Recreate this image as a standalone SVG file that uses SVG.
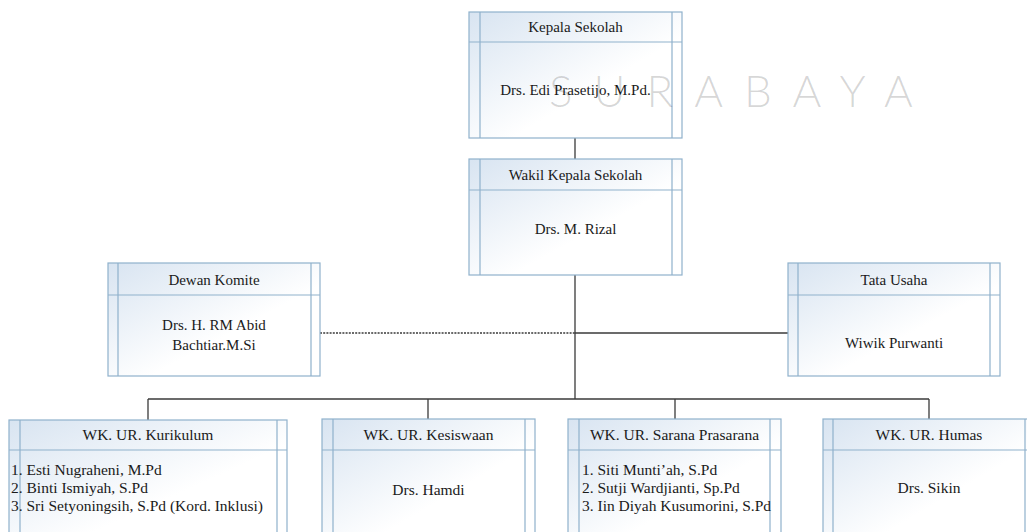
<svg xmlns="http://www.w3.org/2000/svg" width="1027" height="532" viewBox="0 0 1027 532">
<style>
.box{fill:url(#g);stroke:#8fb1cc;stroke-width:1.2}
.ln{stroke:#8fb1cc;stroke-width:1.2;fill:none}
.t{font-family:"Liberation Serif","Times New Roman",serif;font-size:15px;fill:#1a1a1a;text-anchor:middle}
.l{font-family:"Liberation Serif","Times New Roman",serif;font-size:15.5px;fill:#1a1a1a}
.c{stroke:#3a3a3a;stroke-width:1.3;fill:none}
.ws{font-family:Lato,"Open Sans",sans-serif;font-weight:300;font-size:44px;fill:#000;fill-opacity:0.16;letter-spacing:21px}
</style>
<defs>
<linearGradient id="g" x1="0" y1="0" x2="1" y2="1">
<stop offset="0" stop-color="#d8e4f1"/>
<stop offset="0.6" stop-color="#ffffff"/>
<stop offset="1" stop-color="#ffffff"/>
</linearGradient>
</defs>
<rect width="1027" height="532" fill="#ffffff"/>

<g id="connectors">
<line class="c" x1="575" y1="138" x2="575" y2="159"/>
<line class="c" x1="575" y1="275" x2="575" y2="399"/>
<line class="c" x1="575" y1="333" x2="788" y2="333"/>
<line class="c" x1="320" y1="333" x2="575" y2="333" stroke-dasharray="2,1.2"/>
<line class="c" x1="148" y1="399" x2="929" y2="399"/>
<line class="c" x1="148" y1="399" x2="148" y2="420"/>
<line class="c" x1="428" y1="399" x2="428" y2="419"/>
<line class="c" x1="675" y1="399" x2="675" y2="419"/>
<line class="c" x1="929" y1="399" x2="929" y2="419"/>
</g>

<g id="kepala">
<rect class="box" x="469" y="12" width="213" height="126"/>
<path class="ln" d="M480 12V138M672 12V138M469 42H682"/>
<text class="t" x="575.5" y="32">Kepala Sekolah</text>
<text class="t" x="575.5" y="95">Drs. Edi Prasetijo, M.Pd.</text>
</g>

<g id="wakil">
<rect class="box" x="469" y="159" width="213" height="116"/>
<path class="ln" d="M480 159V275M672 159V275M469 190H682"/>
<text class="t" x="575.5" y="180">Wakil Kepala Sekolah</text>
<text class="t" x="575.5" y="234">Drs. M. Rizal</text>
</g>

<g id="dewan">
<rect class="box" x="108" y="263" width="212" height="113"/>
<path class="ln" d="M118 263V376M311 263V376M108 295H320"/>
<text class="t" x="214" y="285">Dewan Komite</text>
<text class="t" x="214" y="330">Drs. H. RM Abid</text>
<text class="t" x="214" y="350">Bachtiar.M.Si</text>
</g>

<g id="tatausaha">
<rect class="box" x="788" y="263" width="212" height="113"/>
<path class="ln" d="M798 263V376M990 263V376M788 295H1000"/>
<text class="t" x="894" y="285">Tata Usaha</text>
<text class="t" x="894" y="348">Wiwik Purwanti</text>
</g>

<g id="kurikulum">
<rect class="box" x="9" y="420" width="278" height="125"/>
<path class="ln" d="M20 420V545M277 420V545M9 450H287"/>
<text class="t" x="148" y="440" style="font-size:15.5px">WK. UR. Kurikulum</text>
<text class="l" x="11" y="475">1. Esti Nugraheni, M.Pd</text>
<text class="l" x="11" y="493">2. Binti Ismiyah, S.Pd</text>
<text class="l" x="11" y="511">3. Sri Setyoningsih, S.Pd (Kord. Inklusi)</text>
</g>

<g id="kesiswaan">
<rect class="box" x="322" y="419" width="213" height="126"/>
<path class="ln" d="M333 419V545M525 419V545M322 450H535"/>
<text class="t" x="428.5" y="440" style="font-size:15.5px">WK. UR. Kesiswaan</text>
<text class="t" x="428.5" y="495" style="font-size:15.5px">Drs. Hamdi</text>
</g>

<g id="sarana">
<rect class="box" x="568" y="419" width="213" height="126"/>
<path class="ln" d="M579 419V545M770 419V545M568 450H781"/>
<text class="t" x="674.5" y="440" style="font-size:15.5px">WK. UR. Sarana Prasarana</text>
<text class="l" x="582" y="475">1. Siti Munti’ah, S.Pd</text>
<text class="l" x="582" y="493">2. Sutji Wardjianti, Sp.Pd</text>
<text class="l" x="582" y="511">3. Iin Diyah Kusumorini, S.Pd</text>
</g>

<g id="humas">
<rect class="box" x="823" y="419" width="213" height="126"/>
<path class="ln" d="M833 419V545M1025 419V545M823 450H1036"/>
<text class="t" x="929" y="440" style="font-size:15.5px">WK. UR. Humas</text>
<text class="t" x="929" y="493" style="font-size:15.5px">Drs. Sikin</text>
</g>

<g id="watermark">
<text class="ws" x="549" y="107">SURABAYA</text>
</g>
</svg>
